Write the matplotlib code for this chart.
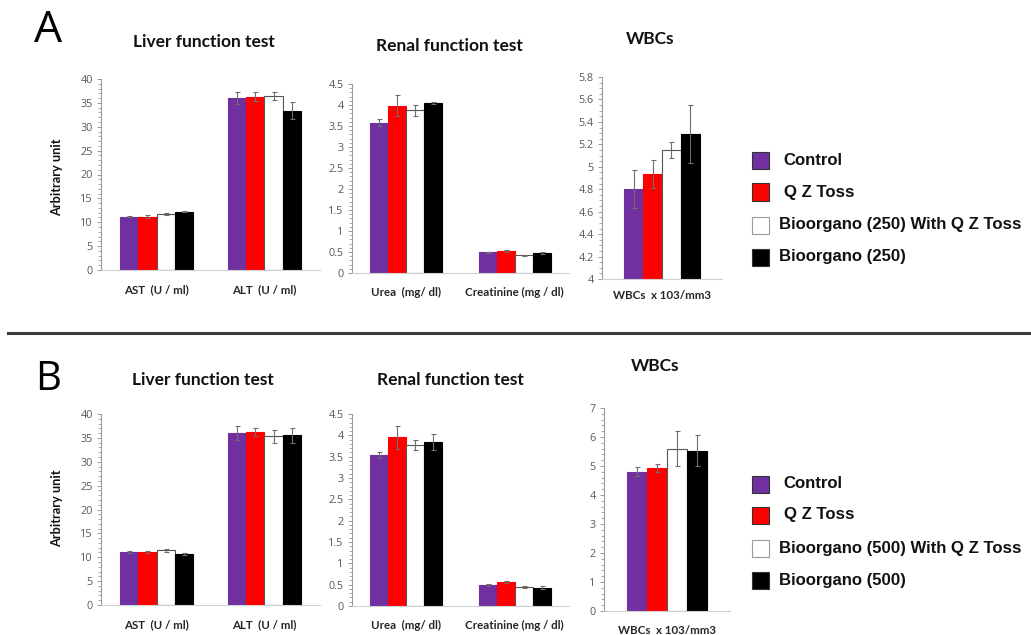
import matplotlib
matplotlib.use("Agg")
import matplotlib.pyplot as plt
import numpy as np
from matplotlib.patches import Rectangle
from matplotlib.lines import Line2D
from matplotlib.ticker import MultipleLocator

# ---------------- data ----------------
series_A = ["Control", "Q Z Toss", "Bioorgano (250) With Q Z Toss", "Bioorgano (250)"]
series_B = ["Control", "Q Z Toss", "Bioorgano (500) With Q Z Toss", "Bioorgano (500)"]
colors = ["#7030A0", "#FF0000", "#FFFFFF", "#000000"]

liver_cats = ["AST  (U / ml)", "ALT  (U / ml)"]
renal_cats = ["Urea  (mg/ dl)", "Creatinine (mg / dl)"]
wbc_cats = ["WBCs  x 103/mm3"]

# per series: [AST, ALT]
liver_A = [[11.2, 36.0], [11.2, 36.3], [11.8, 36.4], [12.2, 33.4]]
liver_A_err = [[0.2, 1.3], [0.3, 0.9], [0.2, 0.9], [0.1, 1.7]]
renal_A = [[3.58, 0.49], [3.98, 0.53], [3.88, 0.42], [4.05, 0.47]]
renal_A_err = [[0.08, 0.02], [0.25, 0.02], [0.13, 0.02], [0.02, 0.02]]
wbc_A = [[4.80], [4.935], [5.15], [5.29]]
wbc_A_err = [[0.17], [0.125], [0.07], [0.26]]

liver_B = [[11.1, 36.0], [11.1, 36.2], [11.45, 35.3], [10.6, 35.5]]
liver_B_err = [[0.2, 1.4], [0.3, 0.9], [0.3, 1.4], [0.2, 1.6]]
renal_B = [[3.55, 0.50], [3.95, 0.56], [3.77, 0.45], [3.84, 0.43]]
renal_B_err = [[0.07, 0.02], [0.27, 0.02], [0.12, 0.03], [0.18, 0.03]]
wbc_B = [[4.81], [4.93], [5.60], [5.53]]
wbc_B_err = [[0.17], [0.14], [0.60], [0.53]]

liver_ticks = [0, 5, 10, 15, 20, 25, 30, 35, 40]
renal_ticks = [0, 0.5, 1, 1.5, 2, 2.5, 3, 3.5, 4, 4.5]
wbc_A_ticks = [4, 4.2, 4.4, 4.6, 4.8, 5, 5.2, 5.4, 5.6, 5.8]
wbc_B_ticks = [0, 1, 2, 3, 4, 5, 6, 7]

# ---------------- figure ----------------
W, H = 1031, 635
fig = plt.figure(figsize=(W / 100, H / 100), dpi=100)
fig.patch.set_facecolor("white")

TICK_FONT = ["Open Sans", "DejaVu Sans"]
TITLE_FONT = ["Lato", "DejaVu Sans"]
LEG_FONT = ["Liberation Sans", "DejaVu Sans"]


def rect(l, t, r, b):
    return [l / W, 1 - b / H, (r - l) / W, (b - t) / H]


def fmt(v):
    return "%g" % v


def draw_panel(box, cats, vals, errs, ticks, xlim, width, minor, label_pad):
    ax = fig.add_axes(rect(*box))
    x = np.arange(len(cats))
    n = len(vals)
    for i in range(n):
        offs = (i - (n - 1) / 2) * width
        ec = "#555555" if colors[i] == "#FFFFFF" else colors[i]
        ax.bar(x + offs, vals[i], width=width, color=colors[i], edgecolor=ec,
               linewidth=0.8, zorder=2)
        ax.errorbar(x + offs, vals[i], yerr=errs[i], fmt="none",
                    ecolor="#6e6e6e", elinewidth=0.8, capsize=1.8,
                    capthick=0.8, zorder=3)
    ax.set_xlim(*xlim)
    ax.set_ylim(ticks[0], ticks[-1])
    ax.set_yticks(ticks)
    ax.set_yticklabels([fmt(t) for t in ticks], fontsize=7.8, color="#595959",
                       family=TICK_FONT)
    ax.yaxis.set_minor_locator(MultipleLocator(minor))
    ax.tick_params(axis="y", which="major", length=3, width=0.7, color="#9a9a9a", pad=3)
    ax.tick_params(axis="y", which="minor", length=2, width=0.6, color="#9a9a9a")
    ax.set_xticks(x)
    ax.set_xticklabels(cats, fontsize=8.3, fontweight="bold", color="#262626",
                       family=TITLE_FONT)
    ax.tick_params(axis="x", length=0, pad=label_pad)
    for s in ["top", "right"]:
        ax.spines[s].set_visible(False)
    ax.spines["left"].set_color("#9a9a9a")
    ax.spines["left"].set_linewidth(0.8)
    ax.spines["bottom"].set_color("#d0d0d0")
    ax.spines["bottom"].set_linewidth(0.8)
    ax.set_facecolor("none")
    return ax


def legend(names, ys, x_box=752, x_txt=(783, 784, 779, 779)):
    for i, (nm, y) in enumerate(zip(names, ys)):
        ec = "#9a9a9a" if colors[i] == "#FFFFFF" else "#333333"
        fig.patches.append(Rectangle((x_box / W, 1 - (y + 8.5) / H), 17 / W, 17 / H,
                                     transform=fig.transFigure, facecolor=colors[i],
                                     edgecolor=ec, linewidth=0.8))
        fig.text(x_txt[i] / W, 1 - y / H, nm, fontsize=12.1, fontweight="bold",
                 family=LEG_FONT, va="center", ha="left", color="#111111")


def ftext(x, y, s, **kw):
    fig.text(x / W, 1 - y / H, s, **kw)


# ---- Panel A ----
draw_panel((101, 79, 320, 270), liver_cats, liver_A, liver_A_err, liver_ticks,
           (-0.514, 1.514), 0.167, 1, 10)
draw_panel((352, 84, 569, 273), renal_cats, renal_A, renal_A_err, renal_ticks,
           (-0.502, 1.502), 0.166, 0.1, 10)
draw_panel((602, 77, 722, 279), wbc_cats, wbc_A, wbc_A_err, wbc_A_ticks,
           (-0.5, 0.5), 0.158, 0.05, 8)

# ---- Panel B ----
draw_panel((101, 414, 320, 605), liver_cats, liver_B, liver_B_err, liver_ticks,
           (-0.514, 1.514), 0.167, 1, 10)
draw_panel((352, 414, 569, 606), renal_cats, renal_B, renal_B_err, renal_ticks,
           (-0.502, 1.502), 0.166, 0.1, 10)
draw_panel((604, 408, 730, 611), wbc_cats, wbc_B, wbc_B_err, wbc_B_ticks,
           (-0.5, 0.5), 0.159, 0.2, 10)

# panel letters
ftext(48, 31, "A", fontsize=32, family=["Open Sans", "DejaVu Sans"], ha="center", va="center")
ftext(48, 380, "B", fontsize=29, family=["Open Sans", "DejaVu Sans"], ha="center", va="center")

# titles
tkw = dict(fontsize=12.5, fontweight="bold", family=TITLE_FONT, ha="center", va="center",
           color="#111111")
ftext(204, 42, "Liver function test", **tkw)
ftext(449, 46, "Renal function test", **tkw)
ftext(650, 39, "WBCs", **tkw)
ftext(203, 380, "Liver function test", **tkw)
ftext(450, 380, "Renal function test", **tkw)
ftext(655, 366, "WBCs", **tkw)

# y labels
ykw = dict(fontsize=9.2, fontweight="bold", family=TITLE_FONT, ha="center", va="center",
           rotation=90, color="#111111")
ftext(57, 177, "Arbitrary unit", **ykw)
ftext(57, 508, "Arbitrary unit", **ykw)

# legends
legend(series_A, [160.5, 192, 225, 257])
legend(series_B, [484, 515, 548, 580])

# separator
fig.add_artist(Line2D([8 / W, 1.0], [1 - 333 / H, 1 - 333 / H], transform=fig.transFigure,
                      color="#3a3a3a", linewidth=2.2))

fig.savefig("out.png", dpi=100, facecolor="white")
